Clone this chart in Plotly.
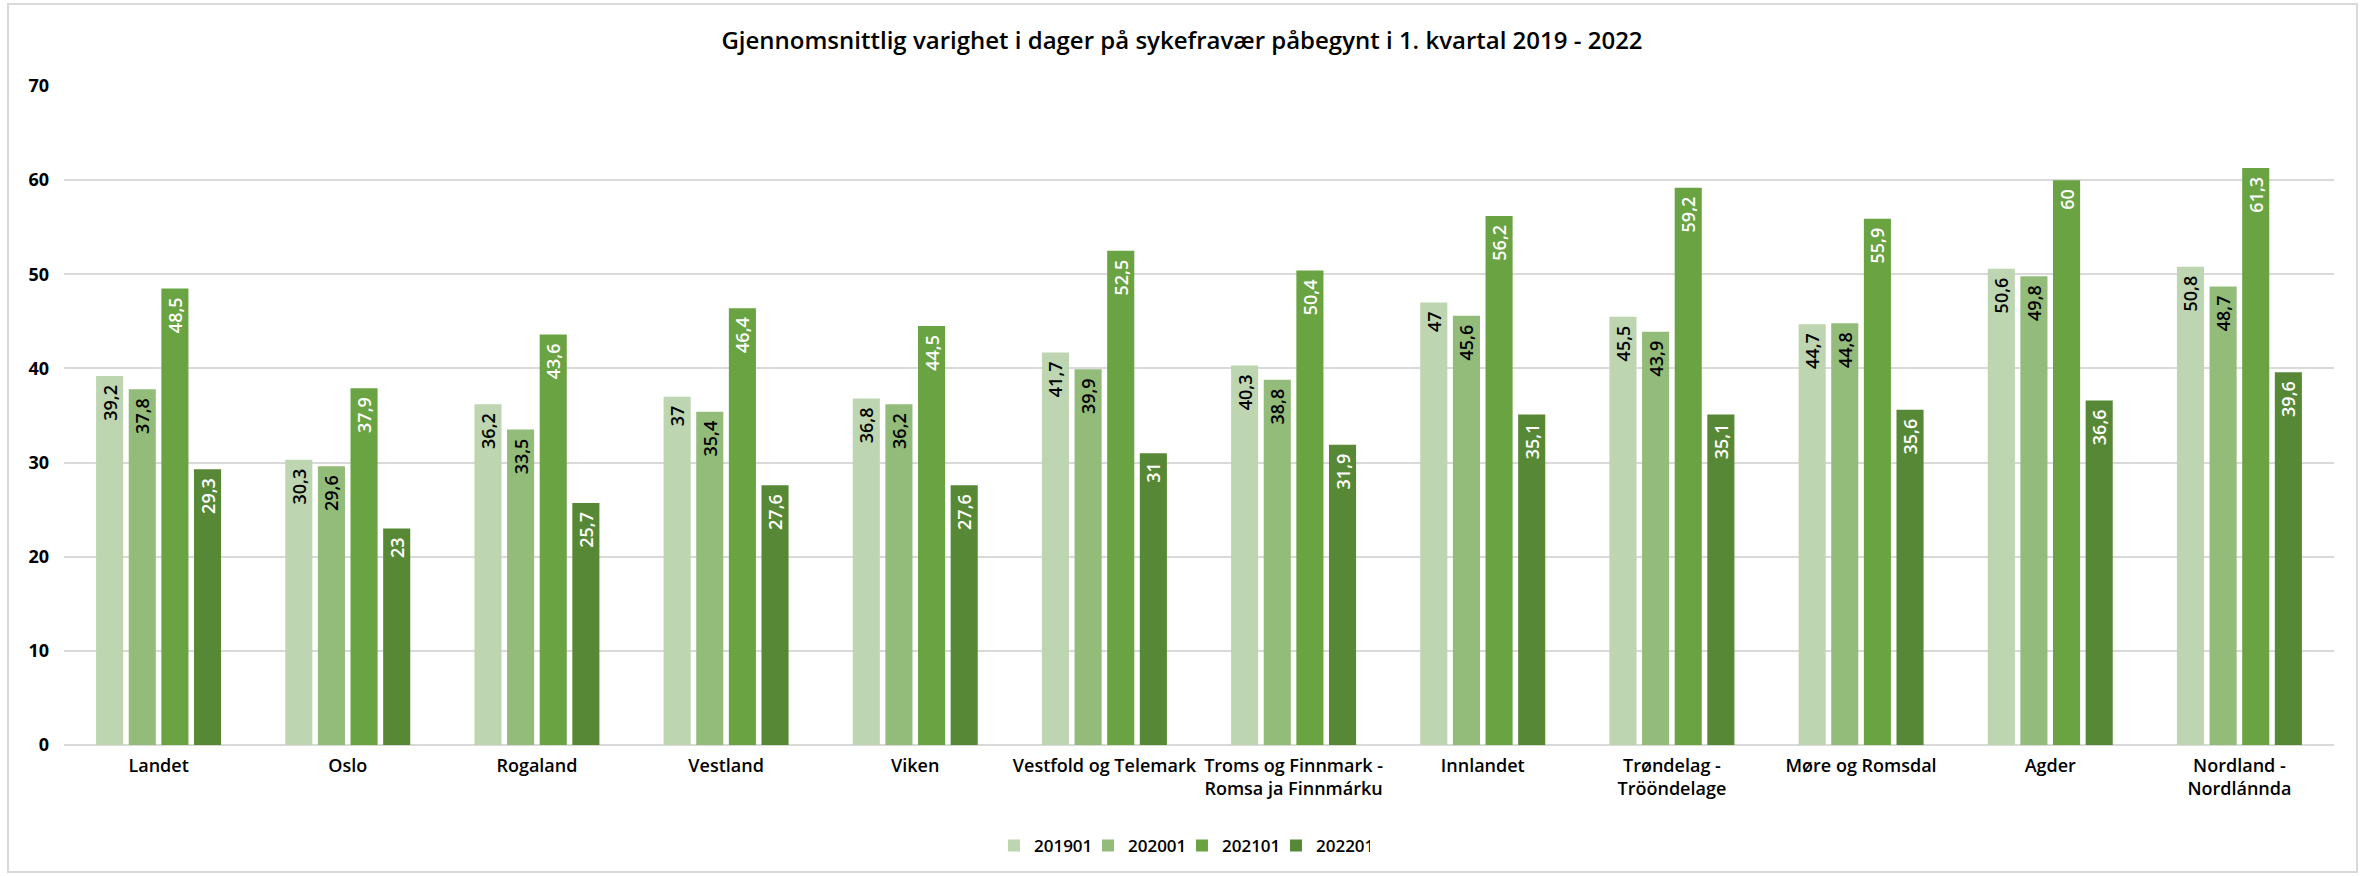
import plotly.graph_objects as go

# Regions (x-axis categories)
regions = [
    "Landet", "Oslo", "Rogaland", "Vestland", "Viken", "Vestfold og Telemark",
    "Troms og Finnmark -<br>Romsa ja Finnmárku", "Innlandet",
    "Trøndelag -<br>Trööndelage", "Møre og Romsdal", "Agder",
    "Nordland -<br>Nordlánnda",
]

# Average duration (days) per quarter
q2019 = [39.2, 30.3, 36.2, 37.0, 36.8, 41.7, 40.3, 47.0, 45.5, 44.7, 50.6, 50.8]
q2020 = [37.8, 29.6, 33.5, 35.4, 36.2, 39.9, 38.8, 45.6, 43.9, 44.8, 49.8, 48.7]
q2021 = [48.5, 37.9, 43.6, 46.4, 44.5, 52.5, 50.4, 56.2, 59.2, 55.9, 60.0, 61.3]
q2022 = [29.3, 23.0, 25.7, 27.6, 27.6, 31.0, 31.9, 35.1, 35.1, 35.6, 36.6, 39.6]

series_names = ["201901", "202001", "202101", "202201"]
series_values = [q2019, q2020, q2021, q2022]
colors = ["#BDD5B0", "#93BB7A", "#6AA342", "#578835"]
label_colors = ["#000000", "#000000", "#FFFFFF", "#FFFFFF"]

FONT = "Open Sans, Segoe UI, Noto Sans, sans-serif"


def fmt(v):
    # Norwegian decimal comma, integers without decimals
    s = f"{v:g}".replace(".", ",")
    return s + "\u2009\u2009"


fig = go.Figure()
for name, vals, col, lcol in zip(series_names, series_values, colors, label_colors):
    fig.add_trace(go.Bar(
        name=name,
        x=regions,
        y=vals,
        marker=dict(color=col, line=dict(width=0)),
        text=[fmt(v) for v in vals],
        textposition="inside",
        insidetextanchor="end",
        textangle=-90,
        constraintext="none",
        insidetextfont=dict(family=FONT, size=18, color=lcol, weight=600),
        hoverinfo="x+y+name",
    ))

fig.update_layout(
    width=2364,
    height=876,
    paper_bgcolor="white",
    plot_bgcolor="white",
    barmode="group",
    bargap=0.31,
    bargroupgap=0.17,
    margin=dict(l=64, r=30, t=86, b=131, autoexpand=False),
    title=dict(
        text="Gjennomsnittlig varighet i dager på sykefravær påbegynt i 1. kvartal 2019 - 2022",
        x=0.5, xref="container", xanchor="center",
        y=1 - 41 / 876, yref="container", yanchor="middle",
        font=dict(family=FONT, size=24, color="#000000", weight=600),
    ),
    font=dict(family=FONT, color="#000000"),
    legend=dict(
        orientation="h",
        x=0.4925, xanchor="center",
        y=-0.153, yanchor="middle",
        font=dict(family=FONT, size=17, color="#000000", weight=600),
        itemwidth=30,
        entrywidth=49,
        traceorder="normal",
    ),
    showlegend=True,
)

fig.update_yaxes(
    range=[0, 70],
    dtick=10,
    showgrid=True,
    gridcolor="#D9D9D9",
    gridwidth=2,
    zeroline=True,
    zerolinecolor="#D9D9D9",
    zerolinewidth=2,
    showline=False,
    ticks="",
    ticklabelstandoff=14,
    tickfont=dict(family=FONT, size=18, color="#000000", weight=700),
    fixedrange=True,
)

fig.update_xaxes(
    showline=False,
    ticks="",
    ticklabelstandoff=8,
    tickfont=dict(family=FONT, size=18, color="#000000", weight=600),
    tickangle=0,
    fixedrange=True,
)

# Light grey frame around the chart area
fig.add_shape(
    type="rect", xref="paper", yref="paper",
    x0=-56 / 2270, x1=(2357 - 64) / 2270,
    y0=(745 - 872) / 659, y1=(745 - 4) / 659,
    line=dict(color="#D9D9D9", width=2),
    fillcolor="rgba(0,0,0,0)",
    layer="below",
)

fig.write_html("out.html")
